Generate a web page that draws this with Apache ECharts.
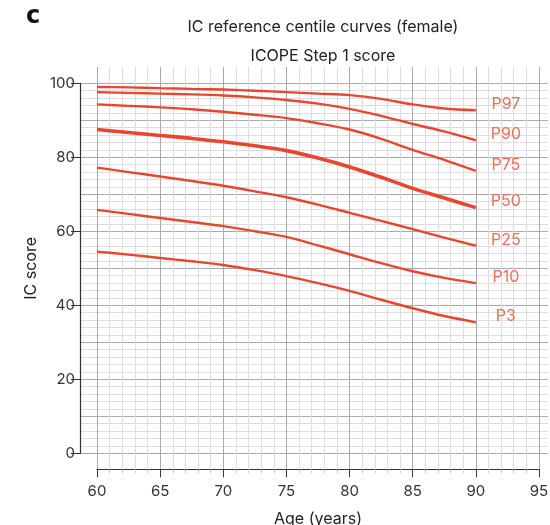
<!DOCTYPE html>
<html>
<head>
<meta charset="utf-8">
<script src="https://cdn.jsdelivr.net/npm/echarts@6/dist/echarts.min.js"></script>
<style>html,body{margin:0;padding:0;background:#fff}#c{width:550px;height:525px}</style>
</head>
<body>
<div id="c"></div>
<script>
const ages = [60, 62.5, 65, 67.5, 70, 72.5, 75, 77.5, 80, 82.5, 85, 87.5, 90];
const P97 = [99.0, 98.9, 98.7, 98.5, 98.3, 98.0, 97.6, 97.2, 96.8, 95.8, 94.3, 93.2, 92.7];
const P90 = [97.6, 97.4, 97.2, 97.0, 96.7, 96.2, 95.5, 94.5, 93.1, 91.2, 89.0, 87.0, 84.6];
const P75 = [94.3, 93.9, 93.5, 93.0, 92.3, 91.5, 90.6, 89.2, 87.5, 85.0, 82.0, 79.3, 76.3];
const P50 = [87.5, 86.7, 85.9, 85.1, 84.2, 83.1, 81.8, 79.8, 77.4, 74.6, 71.6, 69.0, 66.4];
const P25 = [77.2, 76.0, 74.8, 73.6, 72.3, 70.8, 69.2, 67.2, 65.0, 62.8, 60.6, 58.3, 56.1];
const P10 = [65.8, 64.7, 63.6, 62.5, 61.4, 60.0, 58.5, 56.2, 53.8, 51.4, 49.2, 47.4, 46.0];
const P3  = [54.5, 53.7, 52.8, 51.9, 50.9, 49.5, 47.9, 46.0, 43.9, 41.5, 39.2, 37.1, 35.4];
const centiles = [
  ['P97', P97], ['P90', P90], ['P75', P75], ['P50', P50],
  ['P25', P25], ['P10', P10], ['P3', P3]
];
const xTicks = [60, 65, 70, 75, 80, 85, 90, 95];
const yTicks = [0, 20, 40, 60, 80, 100];

const FONT = 'Inter, "Noto Sans", sans-serif';
const LINE = '#e8472f';
const LABEL = '#e8705c';

const chart = echarts.init(document.getElementById('c'), null, {renderer: 'canvas'});
chart.setOption({
  animation: false,
  textStyle: {fontFamily: FONT},
  title: [
    {text: 'c', left: 21, top: 0, textStyle: {fontFamily: '"DejaVu Sans", sans-serif', fontWeight: 'bold', fontSize: 24, color: '#111'}},
    {text: 'IC reference centile curves (female)', left: 318, top: 14, textAlign: 'center', textStyle: {fontFamily: FONT, fontWeight: 'normal', fontSize: 16, color: '#222'}},
    {text: 'ICOPE Step 1 score', left: 318, top: 43, textAlign: 'center', textStyle: {fontFamily: FONT, fontWeight: 'normal', fontSize: 16, color: '#222'}}
  ],
  grid: [
    {left: 80, right: 2, top: 83.3, bottom: 71.7, containLabel: false, outerBoundsMode: 'none'},
    {left: 97, right: 11, top: 67, bottom: 55.7, containLabel: false, outerBoundsMode: 'none'}
  ],
  xAxis: [
    {gridIndex: 0, type: 'value', min: 0, max: 1, show: false},
    {gridIndex: 1, type: 'value', min: xTicks[0], max: xTicks[xTicks.length - 1], interval: 5,
     axisLine: {show: true, onZero: false, lineStyle: {color: '#333', width: 1.2}},
     axisTick: {show: true, length: 8, lineStyle: {color: '#333'}},
     minorTick: {show: true, splitNumber: 5, length: 4, lineStyle: {color: '#ccc'}},
     splitLine: {show: true, lineStyle: {color: '#aaa', width: 1}},
     minorSplitLine: {show: true, lineStyle: {color: '#ddd', width: 1}},
     axisLabel: {fontFamily: FONT, fontSize: 15, color: '#333', margin: 15},
     name: 'Age (years)', nameLocation: 'middle', nameGap: 42,
     nameTextStyle: {fontFamily: FONT, fontSize: 16, color: '#222'}}
  ],
  yAxis: [
    {gridIndex: 0, type: 'value', min: 0, max: 100, interval: 10, position: 'left',
     axisLine: {show: false}, axisTick: {show: false}, axisLabel: {show: false},
     splitLine: {show: true, lineStyle: {color: '#aaa', width: 1}},
     minorSplitLine: {show: true, lineStyle: {color: '#ddd', width: 1}},
     minorTick: {show: false, splitNumber: 5}},
    {gridIndex: 0, type: 'value', min: yTicks[0], max: yTicks[yTicks.length - 1], interval: 20, position: 'left', offset: 0,
     axisLine: {show: true, onZero: false, lineStyle: {color: '#333', width: 1.2}},
     axisTick: {show: true, length: 9, lineStyle: {color: '#333'}},
     splitLine: {show: false},
     axisLabel: {fontFamily: FONT, fontSize: 15, color: '#333', margin: 5},
     name: 'IC score', nameLocation: 'middle', nameGap: 40,
     nameTextStyle: {fontFamily: FONT, fontSize: 16, color: '#222'}},
    {gridIndex: 1, type: 'value', min: -4.32, max: 104.4, show: false}
  ],
  series: centiles.map(([name, vals]) => ({
    name: name,
    type: 'line',
    xAxisIndex: 1,
    yAxisIndex: 2,
    smooth: 0.3,
    symbol: 'none',
    z: 5,
    lineStyle: {color: LINE, width: name === 'P50' ? 3.6 : 2.4},
    data: ages.map((a, i) => [a, vals[i]]),
    endLabel: {
      show: true,
      formatter: name,
      distance: 0,
      align: 'center',
      offset: [30, -6],
      fontFamily: FONT,
      fontSize: 16,
      color: LABEL
    }
  }))
});
</script>
</body>
</html>
